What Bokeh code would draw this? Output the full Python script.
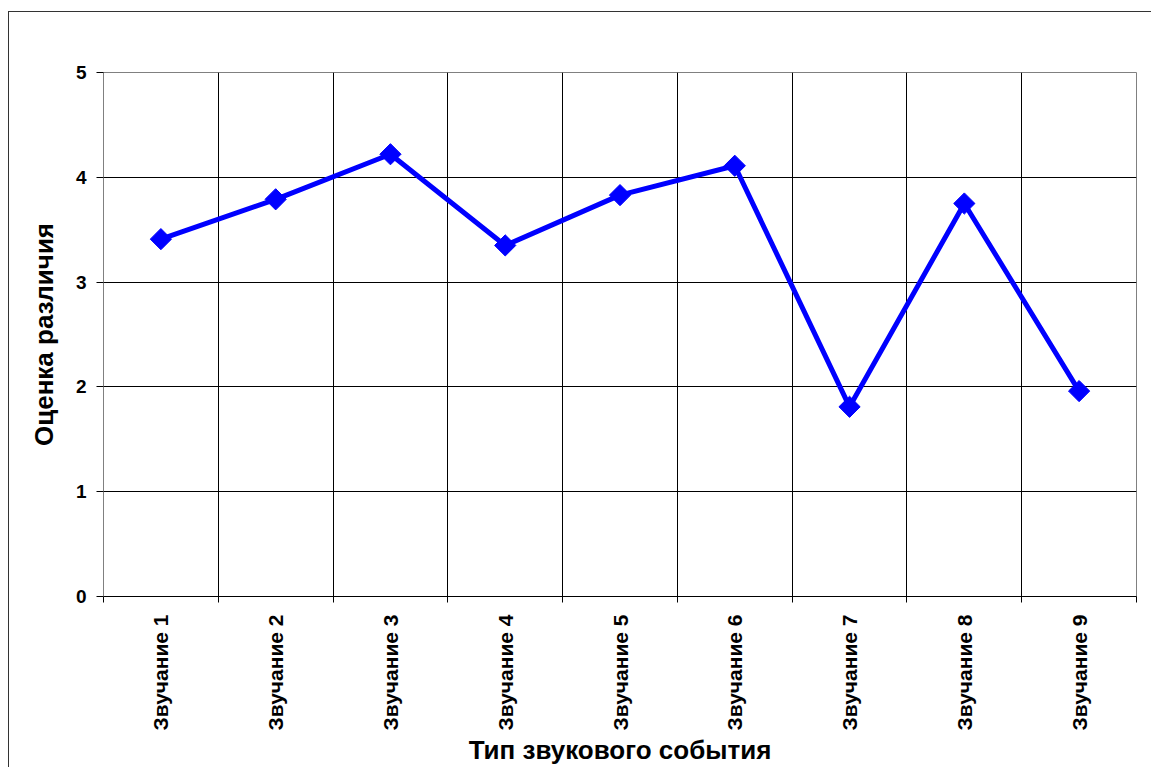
import numpy as np
from bokeh.plotting import figure
from bokeh.models import FixedTicker, Range1d
from bokeh.embed import file_html
from bokeh.resources import INLINE

categories = ["Звучание 1", "Звучание 2", "Звучание 3", "Звучание 4", "Звучание 5",
              "Звучание 6", "Звучание 7", "Звучание 8", "Звучание 9"]
values = [3.41, 3.79, 4.22, 3.35, 3.83, 4.11, 1.81, 3.75, 1.96]
y_ticks = [0, 1, 2, 3, 4, 5]
x_title = "Тип звукового события"
y_title = "Оценка различия"

n = len(categories)
xs = [i + 0.5 for i in range(n)]
bounds = list(range(n + 1))

FONT = "Liberation Sans"

p = figure(width=1143, height=756, x_range=Range1d(0, n), y_range=Range1d(0, 5),
           output_backend="svg", toolbar_location=None,
           min_border_left=94, min_border_top=60, min_border_right=16, min_border_bottom=171)
p.margin = (11, 0, 0, 8)
p.styles = {"border-left": "1px solid #333333", "border-top": "1px solid #333333"}

p.outline_line_color = "#808080"
p.outline_line_width = 1

# x axis
p.xaxis.ticker = FixedTicker(ticks=xs, minor_ticks=bounds)
p.xaxis.major_label_overrides = {x: c for x, c in zip(xs, categories)}
p.xaxis.major_label_orientation = np.pi / 2
p.xaxis.major_tick_out = 0
p.xaxis.major_tick_in = 0
p.xaxis.minor_tick_out = 6
p.xaxis.minor_tick_in = 0
p.xaxis.minor_tick_line_color = "black"
p.xaxis.axis_line_color = "black"
p.xaxis.major_label_standoff = 12
p.xaxis.major_label_text_font = FONT
p.xaxis.major_label_text_font_size = "21px"
p.xaxis.major_label_text_font_style = "bold"
p.xaxis.major_label_text_color = "black"
p.xaxis.axis_label = x_title
p.xaxis.axis_label_text_font = FONT
p.xaxis.axis_label_text_font_size = "26px"
p.xaxis.axis_label_text_font_style = "bold"
p.xaxis.axis_label_text_color = "black"
p.xaxis.axis_label_standoff = 2

# y axis
p.yaxis.ticker = FixedTicker(ticks=y_ticks)
p.yaxis.major_tick_out = 7
p.yaxis.major_tick_in = 0
p.yaxis.minor_tick_out = 0
p.yaxis.minor_tick_in = 0
p.yaxis.major_tick_line_color = "black"
p.yaxis.axis_line_color = "#808080"
p.yaxis.major_label_standoff = 10
p.yaxis.major_label_text_font = FONT
p.yaxis.major_label_text_font_size = "19px"
p.yaxis.major_label_text_font_style = "bold"
p.yaxis.major_label_text_color = "black"
p.yaxis.axis_label = y_title
p.yaxis.axis_label_text_font = FONT
p.yaxis.axis_label_text_font_size = "26px"
p.yaxis.axis_label_text_font_style = "bold"
p.yaxis.axis_label_text_color = "black"
p.yaxis.axis_label_standoff = 14

# grids
p.xgrid.ticker = FixedTicker(ticks=bounds)
p.xgrid.grid_line_color = "black"
p.xgrid.grid_line_width = 1
p.ygrid.ticker = FixedTicker(ticks=y_ticks)
p.ygrid.grid_line_color = "black"
p.ygrid.grid_line_width = 1

p.line(xs, values, line_color="#0000FF", line_width=5)
p.scatter(xs, values, marker="square", angle=np.pi / 4, size=15,
          fill_color="#0000FF", line_color="#0000FF")

open("out.html", "w").write(file_html(p, INLINE))
